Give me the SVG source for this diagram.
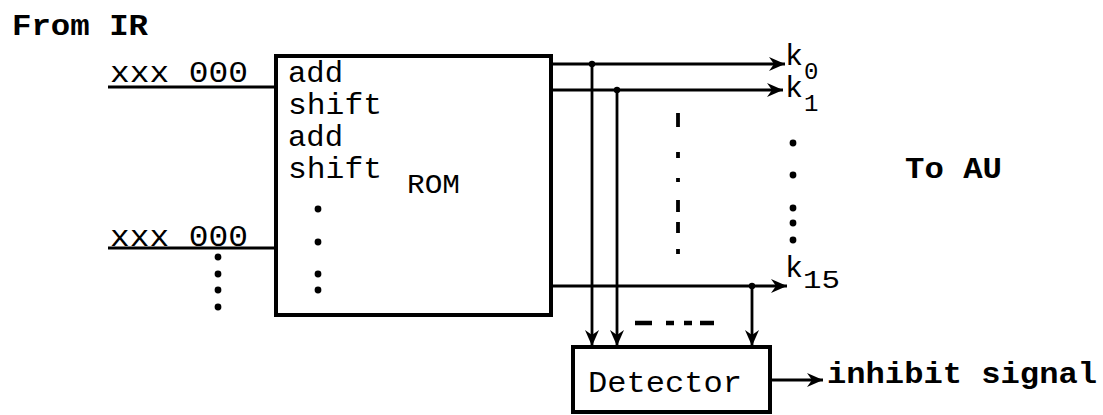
<svg xmlns="http://www.w3.org/2000/svg" width="1103" height="415" viewBox="0 0 1103 415">
<style>
.t{font-family:"Liberation Mono","DejaVu Sans Mono",monospace;fill:#000}
.b{font-weight:bold}
.box{fill:#fff;stroke:#000;stroke-width:4}
.ln{fill:none;stroke:#000;stroke-width:2.8}
.dot{fill:#000}
</style>
<defs>
<marker id="ah" markerUnits="userSpaceOnUse" markerWidth="18" markerHeight="14" refX="16" refY="7" orient="auto">
<path d="M0,0 L16,7 L0,14 L5,7 Z" fill="#000"/>
</marker>
</defs>
<text class="t b" x="12" y="35" font-size="30" textLength="136" lengthAdjust="spacingAndGlyphs">From IR</text>
<g id="rom">
<rect class="box" x="276" y="56" width="275" height="259"/>
<text class="t" x="288" y="82" font-size="30" textLength="55" lengthAdjust="spacingAndGlyphs">add</text>
<text class="t" x="288" y="114" font-size="30" textLength="94" lengthAdjust="spacingAndGlyphs">shift</text>
<text class="t" x="288" y="146" font-size="30" textLength="55" lengthAdjust="spacingAndGlyphs">add</text>
<text class="t" x="288" y="178" font-size="30" textLength="94" lengthAdjust="spacingAndGlyphs">shift</text>
<text class="t" x="407" y="193" font-size="27" textLength="53" lengthAdjust="spacingAndGlyphs">ROM</text>
<circle class="dot" cx="318" cy="209" r="3.4"/>
<circle class="dot" cx="318" cy="242" r="3.4"/>
<circle class="dot" cx="318" cy="274" r="3.4"/>
<circle class="dot" cx="318" cy="290" r="3.4"/>
</g>
<g id="detector">
<rect class="box" x="573" y="347" width="197" height="65"/>
<text class="t" x="588" y="392" font-size="30" textLength="154" lengthAdjust="spacingAndGlyphs">Detector</text>
</g>
<g id="inputs">
<text class="t" x="110" y="82" font-size="30" textLength="138" lengthAdjust="spacingAndGlyphs">xxx 000</text>
<text class="t" x="110" y="246" font-size="30" textLength="138" lengthAdjust="spacingAndGlyphs">xxx 000</text>
<circle class="dot" cx="218" cy="257" r="3.4"/>
<circle class="dot" cx="218" cy="274" r="3.4"/>
<circle class="dot" cx="218" cy="290" r="3.4"/>
<circle class="dot" cx="218" cy="307" r="3.4"/>
</g>
<g id="connectors">
<line class="ln" x1="108" y1="87" x2="276" y2="87"/>
<line class="ln" x1="108" y1="248" x2="276" y2="248"/>
<line class="ln" x1="551" y1="64" x2="785" y2="64" marker-end="url(#ah)"/>
<line class="ln" x1="551" y1="90" x2="783" y2="90" marker-end="url(#ah)"/>
<line class="ln" x1="551" y1="286" x2="787" y2="286" marker-end="url(#ah)"/>
<line class="ln" x1="592" y1="64" x2="592" y2="346" marker-end="url(#ah)"/>
<line class="ln" x1="617" y1="90" x2="617" y2="346" marker-end="url(#ah)"/>
<line class="ln" x1="752" y1="286" x2="752" y2="346" marker-end="url(#ah)"/>
<circle class="dot" cx="592" cy="64" r="3.2"/>
<circle class="dot" cx="617" cy="90" r="3.2"/>
<circle class="dot" cx="752" cy="286" r="3.2"/>
<line class="ln" x1="770" y1="380" x2="823" y2="380" marker-end="url(#ah)"/>
<path d="M678,113 V127 M678,152 V158 M678,178 V182 M678,200 V212 M678,222 V233 M678,249 V254" stroke="#000" stroke-width="3.8" fill="none"/>
<path d="M635,323 H652 M666,323 H674 M684,323 H692 M700,323 H714" stroke="#000" stroke-width="4.5" fill="none"/>
</g>
<g id="outputs">
<text class="t" x="785" y="65" font-size="30">k</text>
<text class="t" x="804" y="79" font-size="24">0</text>
<text class="t" x="785" y="97" font-size="30">k</text>
<text class="t" x="804" y="111" font-size="24">1</text>
<circle class="dot" cx="793" cy="143" r="3.4"/>
<circle class="dot" cx="793" cy="175" r="3.4"/>
<circle class="dot" cx="793" cy="208" r="3.4"/>
<circle class="dot" cx="793" cy="223" r="3.4"/>
<circle class="dot" cx="793" cy="240" r="3.4"/>
<text class="t" x="785" y="277" font-size="30">k</text>
<text class="t" x="803" y="288" font-size="26" textLength="37" lengthAdjust="spacingAndGlyphs">15</text>
<text class="t b" x="905" y="178" font-size="30" textLength="97" lengthAdjust="spacingAndGlyphs">To AU</text>
<text class="t b" x="827" y="383" font-size="30" textLength="270" lengthAdjust="spacingAndGlyphs">inhibit signal</text>
</g>
</svg>
